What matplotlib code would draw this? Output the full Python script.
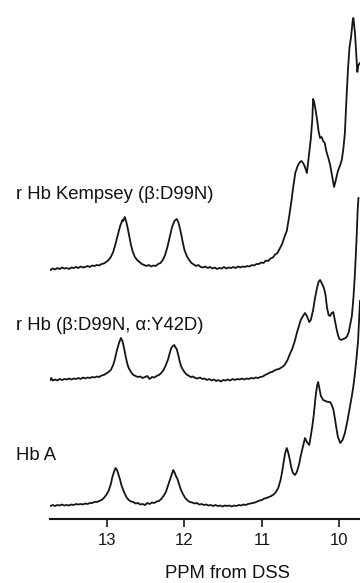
import numpy as np
import matplotlib
matplotlib.use("Agg")
import matplotlib.pyplot as plt

plt.rcParams['font.family'] = ['Liberation Sans', 'DejaVu Sans']

# ---- data: (ppm, intensity above own baseline, arbitrary units) ----
kempsey = [
    (13.73, -1), (13.70, 0.5), (13.67, -0.5), (13.64, 1), (13.61, 0), (13.58, 1.5), (13.55, 0.5),
    (13.52, 1), (13.49, 0), (13.46, 1.5), (13.43, 1), (13.40, 2), (13.37, 1), (13.34, 2.5),
    (13.31, 1.5), (13.28, 2), (13.25, 3), (13.22, 2), (13.19, 3.5), (13.16, 3), (13.13, 4),
    (13.10, 3.5), (13.07, 5), (13.04, 5.5), (13.01, 7), (12.98, 9), (12.95, 12), (12.92, 17),
    (12.89, 25), (12.86, 34), (12.83, 43), (12.80, 49), (12.79, 48), (12.77, 52), (12.75, 47),
    (12.73, 40), (12.71, 32), (12.69, 24), (12.67, 18), (12.64, 12), (12.61, 9), (12.58, 7),
    (12.55, 5), (12.52, 4), (12.49, 3), (12.46, 4), (12.43, 2.5), (12.40, 3.5), (12.37, 3),
    (12.34, 5), (12.31, 6), (12.28, 9), (12.25, 14), (12.22, 22), (12.19, 32), (12.16, 42),
    (12.13, 48), (12.10, 50), (12.08, 47), (12.06, 41), (12.04, 34), (12.02, 26), (12.00, 19),
    (11.97, 13), (11.94, 9), (11.91, 6), (11.88, 4.5), (11.85, 3), (11.82, 4), (11.79, 2),
    (11.76, 1.5), (11.73, 2.5), (11.70, 1), (11.67, 2), (11.64, 0.5), (11.61, 1.5), (11.58, 0),
    (11.55, 1), (11.52, 0.5), (11.49, 2), (11.46, 0.5), (11.43, 1.5), (11.40, 1), (11.37, 2),
    (11.34, 1), (11.31, 2.5), (11.28, 1.5), (11.25, 2.5), (11.22, 2), (11.19, 3), (11.16, 2.5),
    (11.13, 4), (11.10, 3.5), (11.07, 5), (11.04, 5), (11.01, 6.5), (10.98, 6), (10.95, 8.5),
    (10.92, 8), (10.89, 10.5), (10.86, 11.5), (10.83, 14.5), (10.80, 16), (10.77, 20.5),
    (10.74, 25), (10.71, 32), (10.68, 38), (10.65, 52), (10.62, 68), (10.60, 80), (10.57, 96),
    (10.54, 103), (10.51, 107), (10.49, 108), (10.47, 106), (10.45, 103), (10.42, 96),
    (10.40, 110), (10.37, 130), (10.35, 150), (10.34, 170), (10.33, 168), (10.31, 160),
    (10.29, 150), (10.27, 138), (10.25, 131), (10.23, 132), (10.21, 128), (10.19, 126),
    (10.17, 118), (10.14, 110), (10.12, 104), (10.10, 95), (10.07, 82), (10.05, 88), (10.02, 98),
    (9.99, 104), (9.97, 109), (9.95, 120), (9.93, 136), (9.91, 170), (9.89, 200), (9.87, 222),
    (9.85, 232), (9.83, 248), (9.82, 251), (9.80, 236), (9.79, 224), (9.77, 197), (9.755, 204),
    (9.735, 206),
]

mutant = [
    (13.73, 0), (13.72, 2), (13.70, -0.5), (13.67, 0.5), (13.64, -0.5), (13.61, 1), (13.58, 0),
    (13.55, 1), (13.52, 0.5), (13.49, 1.5), (13.46, 0.5), (13.43, 1.5), (13.40, 1), (13.37, 2),
    (13.34, 1), (13.31, 2.5), (13.28, 1.5), (13.25, 2.5), (13.22, 2), (13.19, 3), (13.16, 2.5),
    (13.13, 3.5), (13.10, 3), (13.07, 4.5), (13.04, 5), (13.01, 6.5), (12.98, 8), (12.95, 10),
    (12.92, 15), (12.90, 20), (12.88, 27), (12.86, 33), (12.84, 38), (12.82, 42), (12.80, 39),
    (12.78, 32), (12.76, 24), (12.74, 17), (12.72, 12), (12.69, 8), (12.66, 5), (12.63, 4),
    (12.60, 3), (12.57, 3.5), (12.54, 2), (12.51, 3), (12.48, 4), (12.45, 1), (12.42, 3),
    (12.39, 2.5), (12.36, 4), (12.33, 5), (12.30, 7), (12.27, 10), (12.24, 15), (12.21, 21),
    (12.19, 27), (12.17, 32), (12.15, 34), (12.13, 35), (12.12, 33), (12.10, 31), (12.08, 25),
    (12.06, 18), (12.04, 13), (12.01, 9), (11.98, 6), (11.95, 4.5), (11.92, 3), (11.89, 3.5),
    (11.86, 2), (11.83, 1.5), (11.80, 2.5), (11.77, 1), (11.74, 1.5), (11.71, 0), (11.68, 1),
    (11.65, -0.5), (11.62, 0.5), (11.59, -1), (11.56, 0), (11.53, -1.5), (11.50, 0), (11.47, -0.5),
    (11.44, 0.5), (11.41, -0.5), (11.38, 1), (11.35, 0), (11.32, 1), (11.29, 0.5), (11.26, 1.5),
    (11.23, 0.5), (11.20, 1.5), (11.17, 1), (11.14, 2), (11.11, 1.5), (11.08, 2.5), (11.05, 2),
    (11.02, 3), (10.99, 3.5), (10.96, 5), (10.93, 6), (10.90, 7.5), (10.87, 8), (10.84, 9.5),
    (10.81, 10.5), (10.78, 11), (10.75, 12.5), (10.72, 14), (10.70, 16), (10.67, 20), (10.64, 26),
    (10.61, 31), (10.58, 38), (10.55, 47), (10.52, 55), (10.50, 60), (10.47, 64), (10.445, 67),
    (10.42, 64), (10.39, 58), (10.37, 60), (10.34, 70), (10.32, 80), (10.29, 92), (10.27, 98),
    (10.25, 100), (10.23, 97), (10.20, 92), (10.18, 85), (10.16, 72), (10.14, 65), (10.12, 64),
    (10.10, 67), (10.08, 68), (10.06, 60), (10.04, 52), (10.02, 45), (10.00, 41), (9.98, 40),
    (9.95, 41), (9.92, 42), (9.90, 44), (9.88, 48), (9.86, 56), (9.84, 64), (9.82, 82),
    (9.80, 107), (9.78, 140), (9.765, 170), (9.755, 182),
]

hba = [
    (13.73, 0), (13.70, 1), (13.67, 0), (13.64, 1), (13.61, 0.5), (13.58, 1.5), (13.55, 0.5),
    (13.52, 1), (13.49, 0.5), (13.46, 1.5), (13.43, 1), (13.40, 2), (13.37, 1.5), (13.34, 2),
    (13.31, 1.5), (13.28, 2.5), (13.25, 2), (13.22, 3), (13.19, 3), (13.16, 4), (13.13, 4),
    (13.10, 5), (13.07, 6), (13.04, 8), (13.01, 11), (12.98, 15), (12.95, 22), (12.93, 29),
    (12.91, 34), (12.89, 38), (12.87, 36), (12.85, 31), (12.83, 26), (12.81, 20), (12.78, 14),
    (12.75, 9), (12.72, 6), (12.69, 4.5), (12.66, 4), (12.63, 2.5), (12.60, 3), (12.57, 1.5),
    (12.54, 2), (12.51, 1), (12.48, 3), (12.45, 2), (12.42, 3.5), (12.39, 3), (12.36, 4.5),
    (12.33, 5), (12.30, 7), (12.27, 10), (12.24, 14), (12.21, 21), (12.18, 28), (12.16, 33),
    (12.145, 36), (12.13, 34), (12.11, 30), (12.09, 27), (12.07, 22), (12.05, 17), (12.02, 12),
    (11.99, 8), (11.96, 5.5), (11.93, 4), (11.90, 3.5), (11.87, 2.5), (11.84, 3), (11.81, 1.5),
    (11.78, 2), (11.75, 1), (11.72, 1.5), (11.69, 0.5), (11.66, 1), (11.63, 0), (11.60, 1),
    (11.57, 0), (11.54, 0.5), (11.51, -0.5), (11.48, 0.5), (11.45, 0), (11.42, 0.5), (11.39, -0.5),
    (11.36, 0.5), (11.33, 0), (11.30, 1), (11.27, 0.5), (11.24, 1.5), (11.21, 1), (11.18, 2),
    (11.15, 2.5), (11.12, 3), (11.09, 3.5), (11.06, 4.5), (11.03, 5.5), (11.00, 6), (10.97, 7.5),
    (10.94, 8), (10.91, 9), (10.88, 10), (10.85, 11.5), (10.82, 14), (10.79, 18), (10.76, 26),
    (10.74, 34), (10.72, 44), (10.70, 53), (10.68, 58), (10.66, 53), (10.64, 46), (10.62, 38),
    (10.60, 33), (10.575, 31), (10.55, 34), (10.52, 42), (10.50, 50), (10.47, 60), (10.445, 68),
    (10.42, 64), (10.39, 61), (10.37, 70), (10.35, 80), (10.33, 92), (10.31, 108), (10.29, 120),
    (10.275, 124), (10.26, 118), (10.24, 110), (10.21, 106), (10.18, 105), (10.15, 104),
    (10.12, 104), (10.10, 101), (10.08, 97), (10.06, 88), (10.04, 78), (10.02, 69), (9.99, 63),
    (9.96, 66), (9.93, 73), (9.90, 84), (9.87, 97), (9.84, 110), (9.82, 120), (9.80, 133),
    (9.78, 148), (9.76, 165), (9.745, 190), (9.735, 205),
]

labels = ["r Hb Kempsey (\u03b2:D99N)", "r Hb (\u03b2:D99N, \u03b1:Y42D)", "Hb A"]
x_ticks = [13, 12, 11, 10]
x_label = "PPM from DSS"

# ---- layout ----
W, H = 360, 583
fig = plt.figure(figsize=(W / 100, H / 100), dpi=100)
axis_y = 519
ax = fig.add_axes([50 / W, (H - axis_y) / H, 310 / W, axis_y / H])
ax.set_xlim(13.735, 9.735)
ax.set_ylim(0, axis_y)

offsets = [250, 139, 13]          # vertical stacking of the traces
label_base_y = [199, 330, 460]    # pixel baselines of the trace labels

for spec, off in zip([kempsey, mutant, hba], offsets):
    arr = np.array(spec)
    ax.plot(arr[:, 0], arr[:, 1] + off, color='#151515', lw=1.3, solid_joinstyle='round')

for lab, yb in zip(labels, label_base_y):
    fig.text(16 / W, (H - yb) / H, lab, fontsize=13.3, va='baseline', ha='left', color='#111111')

for s in ['top', 'left', 'right']:
    ax.spines[s].set_visible(False)
ax.spines['bottom'].set_linewidth(1.5)
ax.spines['bottom'].set_color('#151515')
ax.set_yticks([])
ax.set_xticks(x_ticks)
ax.set_xticklabels([str(t) for t in x_ticks])
ax.tick_params(axis='x', direction='out', length=5.8, width=1.2, pad=4.5,
               labelsize=12, colors='#151515')
ax.set_xlabel(x_label, fontsize=13.3, color='#111111')
ax.xaxis.set_label_coords((227.5 - 50) / 310, (axis_y - 565) / axis_y)

fig.savefig("out.png", dpi=100)
